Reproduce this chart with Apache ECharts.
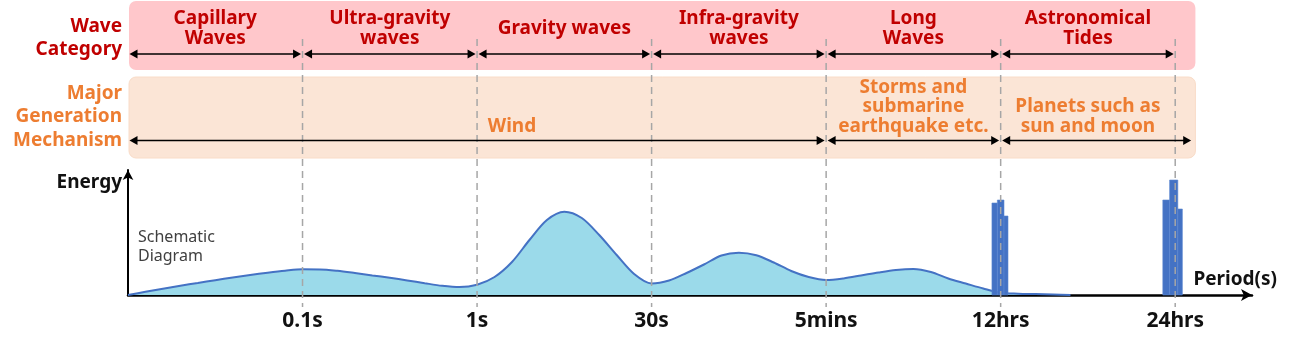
<!DOCTYPE html>
<html>
<head>
<meta charset="utf-8">
<script src="https://cdn.jsdelivr.net/npm/echarts@6/dist/echarts.min.js"></script>
<style>
html,body{margin:0;padding:0;background:#fff;}
#chart{width:1290px;height:348px;}
</style>
</head>
<body>
<div id="chart"></div>
<script>
// ---- data ----
const tickLabels = ['0.1s', '1s', '30s', '5mins', '12hrs', '24hrs'];
const tickPositions = [1, 2, 3, 4, 5, 6];

const waveCategoryNames = ['Capillary\nWaves', 'Ultra-gravity\nwaves', 'Gravity waves', 'Infra-gravity\nwaves', 'Long\nWaves', 'Astronomical\nTides'];
const waveCategoryRanges = [[0, 1], [1, 2], [2, 3], [3, 4], [4, 5], [5, 6]];

const mechanismNames = ['Wind', 'Storms and\nsubmarine\nearthquake etc.', 'Planets such as\nsun and moon'];
const mechanismRanges = [[0, 4], [4, 5], [5, 6.1]];
const mechanismLabelAt = [2.2, 4.5, 5.5];

// schematic energy spectrum (x in tick units, energy in arbitrary units)
const spectrumX = [0.0, 0.1, 0.2, 0.3, 0.4, 0.5, 0.6, 0.7, 0.8, 0.9,
                   1.0, 1.1, 1.2, 1.3, 1.4, 1.5, 1.6, 1.7, 1.8, 1.9,
                   2.0, 2.1, 2.2, 2.3, 2.4, 2.5, 2.6, 2.7, 2.8, 2.9,
                   3.0, 3.1, 3.2, 3.3, 3.4, 3.5, 3.6, 3.7, 3.8, 3.9,
                   4.0, 4.1, 4.2, 4.3, 4.4, 4.5, 4.6, 4.7, 4.8, 4.9,
                   5.0, 5.1, 5.2, 5.3, 5.4];
const spectrumEnergy = [0, 3.2, 6.3, 9.3, 12, 14.8, 17.5, 20, 22.3, 24.3,
                        25.7, 25.6, 24.2, 22, 19.6, 17.2, 14.6, 11.8, 9.2, 7.9,
                        10.3, 18, 33, 55, 75, 83.3, 77, 60, 40, 21,
                        11.5, 14.5, 22, 30.5, 39.5, 42.3, 39.8, 32.5, 24, 18,
                        15, 16.6, 19.5, 22.5, 25, 26, 23, 16.5, 11.5, 6.5,
                        2.2, 1.3, 0.9, 0.5, 0];

// tidal line spectra: [from, to] in tick units and energy
const tideBarRanges = [[4.950, 4.981], [4.981, 5.019], [5.019, 5.042], [5.929, 5.968], [5.968, 6.015], [6.015, 6.041]];
const tideBarEnergy = [92, 95, 79, 95, 115, 86];

// ---- chart ----
const FONT = "'Noto Sans', 'Open Sans', sans-serif";
const X_MAX = 6.44;
const L = 128, R = 38;

function xAxisHidden(gi) {
  return { gridIndex: gi, type: 'value', min: 0, max: X_MAX, show: false };
}
function yAxisHidden(gi) {
  return { gridIndex: gi, type: 'value', min: 0, max: 1, show: false };
}

function arrowRender(offsetFromBottom) {
  return function (params, api) {
    const a = api.coord([api.value(0), 0]);
    const b = api.coord([api.value(1), 0]);
    const cs = params.coordSys;
    const y = cs.y + cs.height - offsetFromBottom;
    const x0 = a[0] + 1.5, x1 = b[0] - 1.5;
    const HL = 8, HW = 4.5;
    return {
      type: 'group',
      children: [
        { type: 'line', shape: { x1: x0 + HL - 1, y1: y, x2: x1 - HL + 1, y2: y }, style: { stroke: '#000', lineWidth: 1.6 } },
        { type: 'polygon', shape: { points: [[x0, y], [x0 + HL, y - HW], [x0 + HL, y + HW]] }, style: { fill: '#000' } },
        { type: 'polygon', shape: { points: [[x1, y], [x1 - HL, y - HW], [x1 - HL, y + HW]] }, style: { fill: '#000' } }
      ]
    };
  };
}

function bandRender(fill, stroke) {
  return function (params, api) {
    const cs = params.coordSys;
    const a = api.coord([0, 0]);
    const b = api.coord([6.11, 0]);
    return {
      type: 'rect',
      shape: { x: a[0] + 1, y: cs.y + 1, width: b[0] - a[0], height: cs.height - 1, r: 7 },
      style: { fill: fill, stroke: stroke, lineWidth: stroke ? 1 : 0 }
    };
  };
}

const option = {
  animation: false,
  backgroundColor: '#fff',
  grid: [
    { left: L, right: R, top: 170, bottom: 53 },      // main spectrum
    { left: L, right: R, top: 0, height: 70 },        // wave category band
    { left: L, right: R, top: 76, height: 82 },       // generation mechanism band
    { left: L, right: R, top: 39, bottom: 41 }        // dashed guide lines
  ],
  xAxis: [
    {
      gridIndex: 0, type: 'value', min: 0, max: X_MAX, interval: 1,
      name: 'Period(s)', nameLocation: 'end', nameGap: 25,
      nameTextStyle: { fontFamily: FONT, fontWeight: 'bold', fontSize: 19, color: '#111', align: 'right', verticalAlign: 'bottom', padding: [0, 0, 6, 0] },
      axisLine: { show: true, symbol: ['none', 'arrow'], symbolSize: [9, 11], lineStyle: { color: '#000', width: 2.5 } },
      axisTick: { show: false },
      splitLine: { show: false },
      axisLabel: {
        showMaxLabel: false, showMinLabel: false, margin: 16,
        fontFamily: FONT, fontWeight: 'bold', fontSize: 21, color: '#111',
        formatter: function (v) { return Number.isInteger(v) && v >= 1 ? tickLabels[v - 1] : ''; }
      }
    },
    xAxisHidden(1), xAxisHidden(2), xAxisHidden(3)
  ],
  yAxis: [
    {
      gridIndex: 0, type: 'value', min: 0, max: 125,
      name: 'Energy', nameLocation: 'end', nameGap: -13,
      nameTextStyle: { fontFamily: FONT, fontWeight: 'bold', fontSize: 19, color: '#111', align: 'right', verticalAlign: 'middle', padding: [0, 6, 0, 0] },
      axisLine: { show: true, symbol: ['none', 'arrow'], symbolSize: [8, 10], lineStyle: { color: '#000', width: 2 } },
      axisTick: { show: false }, axisLabel: { show: false }, splitLine: { show: false }
    },
    yAxisHidden(1), yAxisHidden(2), yAxisHidden(3)
  ],
  graphic: [
    { type: 'text', x: 122, y: 38, style: { text: 'Wave\nCategory', fill: '#C00000', font: 'bold 19px ' + FONT, align: 'right', verticalAlign: 'middle', lineHeight: 23 } },
    { type: 'text', x: 122, y: 117, style: { text: 'Major\nGeneration\nMechanism', fill: '#ED7D31', font: 'bold 19px ' + FONT, align: 'right', verticalAlign: 'middle', lineHeight: 23.5 } },
    { type: 'text', x: 138, y: 247, style: { text: 'Schematic\nDiagram', fill: '#404040', font: '16px ' + FONT, align: 'left', verticalAlign: 'middle', lineHeight: 19.5 } }
  ],
  series: [
    // bands
    { type: 'custom', xAxisIndex: 1, yAxisIndex: 1, z: 1, silent: true, data: [[0, 0]], renderItem: bandRender('#FFC7CB', null) },
    { type: 'custom', xAxisIndex: 2, yAxisIndex: 2, z: 1, silent: true, data: [[0, 0]], renderItem: bandRender('#FBE5D6', '#F9DCC8') },
    // spectrum
    {
      type: 'line', xAxisIndex: 0, yAxisIndex: 0, z: 2, smooth: 0.3, symbol: 'none',
      data: spectrumX.map((x, i) => [x, spectrumEnergy[i]]),
      lineStyle: { color: '#4472C4', width: 2 },
      areaStyle: { color: '#9BDAEA', opacity: 1 }
    },
    // tidal bars
    {
      type: 'custom', xAxisIndex: 0, yAxisIndex: 0, z: 3,
      data: tideBarRanges.map((r, i) => [r[0], r[1], tideBarEnergy[i]]),
      encode: { x: [0, 1], y: 2 },
      renderItem: function (params, api) {
        const p0 = api.coord([api.value(0), api.value(2)]);
        const p1 = api.coord([api.value(1), 0]);
        return { type: 'rect', shape: { x: p0[0], y: p0[1], width: p1[0] - p0[0], height: p1[1] - p0[1] }, style: { fill: '#4472C4', stroke: '#5B86D2', lineWidth: 0.6 } };
      }
    },
    // dashed guide lines
    {
      type: 'custom', xAxisIndex: 3, yAxisIndex: 3, z: 5, silent: true,
      data: tickPositions.map(v => [v, 0]),
      renderItem: function (params, api) {
        const cs = params.coordSys;
        const p = api.coord([api.value(0), 0]);
        return { type: 'line', shape: { x1: p[0], y1: cs.y, x2: p[0], y2: cs.y + cs.height }, style: { stroke: '#A6A6A6', lineWidth: 1.5, lineDash: [7, 5] } };
      }
    },
    // arrows
    { type: 'custom', xAxisIndex: 1, yAxisIndex: 1, z: 6, silent: true, data: waveCategoryRanges, renderItem: arrowRender(16) },
    { type: 'custom', xAxisIndex: 2, yAxisIndex: 2, z: 6, silent: true, data: mechanismRanges, renderItem: arrowRender(17.5) },
    // category labels
    {
      type: 'custom', xAxisIndex: 1, yAxisIndex: 1, z: 7, silent: true,
      data: waveCategoryRanges.map((r, i) => [(r[0] + r[1]) / 2, 0, i]),
      renderItem: function (params, api) {
        const cs = params.coordSys;
        const p = api.coord([api.value(0), 0]);
        return { type: 'text', style: { text: waveCategoryNames[api.value(2)], x: p[0], y: cs.y + 28.5, fill: '#C00000', font: 'bold 19px ' + FONT, align: 'center', verticalAlign: 'middle', lineHeight: 19.5 } };
      }
    },
    {
      type: 'custom', xAxisIndex: 2, yAxisIndex: 2, z: 7, silent: true,
      data: mechanismLabelAt.map((x, i) => [x, 0, i]),
      renderItem: function (params, api) {
        const cs = params.coordSys;
        const p = api.coord([api.value(0), 0]);
        return { type: 'text', style: { text: mechanismNames[api.value(2)], x: p[0], y: cs.y + cs.height - 22, fill: '#ED7D31', font: 'bold 19px ' + FONT, align: 'center', verticalAlign: 'bottom', lineHeight: 19.5 } };
      }
    }
  ]
};

const chart = echarts.init(document.getElementById('chart'), null, { renderer: 'canvas' });
chart.setOption(option);
</script>
</body>
</html>
